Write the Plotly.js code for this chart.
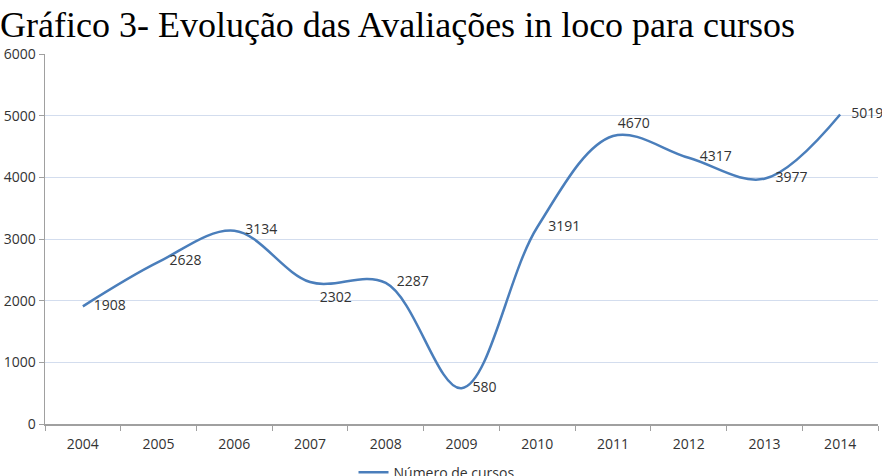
<!DOCTYPE html>
<html>
<head>
<meta charset="utf-8">
<script src="https://cdn.plot.ly/plotly-3.0.1.min.js"></script>
<style>html,body{margin:0;padding:0;background:#fff;}#chart{width:882px;height:476px;}</style>
</head>
<body>
<div id="chart"></div>
<script>
const years = ["2004","2005","2006","2007","2008","2009","2010","2011","2012","2013","2014"];
const cursos = [1908, 2628, 3134, 2302, 2287, 580, 3191, 4670, 4317, 3977, 5019];
const labelPositions = ["middle right","middle right","middle right","bottom right","middle right","middle right","middle right","top right","middle right","middle right","middle right"];
const labelGap = [16,16,16,14,16,16,16,6,16,16,16];
const seriesName = "Número de cursos";
const chartTitle = "Gráfico 3- Evolução das Avaliações in loco para cursos";

const trace = {
  x: years,
  y: cursos,
  name: seriesName,
  type: "scatter",
  mode: "lines+markers+text",
  line: {color: "#4a7ebb", width: 2.5, shape: "spline", smoothing: 1},
  marker: {size: labelGap, opacity: 0, color: "rgba(0,0,0,0)", line: {width: 0}},
  text: cursos.map(String),
  textposition: labelPositions,
  textfont: {family: "Open Sans, sans-serif", size: 14, color: "#333333"},
  cliponaxis: false,
  hoverinfo: "skip"
};

const layout = {
  width: 882, height: 476,
  paper_bgcolor: "#ffffff", plot_bgcolor: "#ffffff",
  margin: {l: 45, r: 4, t: 54, b: 52, autoexpand: false},
  title: {
    text: chartTitle,
    font: {family: "Liberation Serif, Times New Roman, serif", size: 36, color: "#000000"},
    x: 0, xref: "container", xanchor: "left",
    y: 0.976, yref: "container", yanchor: "top"
  },
  xaxis: {
    type: "category",
    tickson: "boundaries",
    ticks: "outside", ticklen: 5, tickcolor: "#a0a0a0",
    ticklabelstandoff: 7,
    showline: true, linecolor: "#a0a0a0", linewidth: 1.5,
    showgrid: false, zeroline: false,
    tickfont: {family: "Open Sans, sans-serif", size: 14, color: "#333333"},
    range: [-0.5, 10.5]
  },
  yaxis: {
    range: [0, 6000], dtick: 1000,
    ticks: "outside", ticklen: 5, tickcolor: "#a0a0a0",
    ticklabelstandoff: 0,
    showline: true, linecolor: "#a0a0a0", linewidth: 1.5,
    showgrid: true, gridcolor: "#d3ddee", gridwidth: 1,
    zeroline: false,
    tickfont: {family: "Open Sans, sans-serif", size: 14, color: "#333333"}
  },
  showlegend: true,
  legend: {
    orientation: "h", x: 0.47, xanchor: "center", y: -0.088, yanchor: "top",
    itemwidth: 30,
    font: {family: "Open Sans, sans-serif", size: 14, color: "#333333"},
    bgcolor: "rgba(0,0,0,0)"
  }
};

Plotly.newPlot("chart", [trace], layout, {staticPlot: true, displayModeBar: false});
</script>
</body>
</html>
